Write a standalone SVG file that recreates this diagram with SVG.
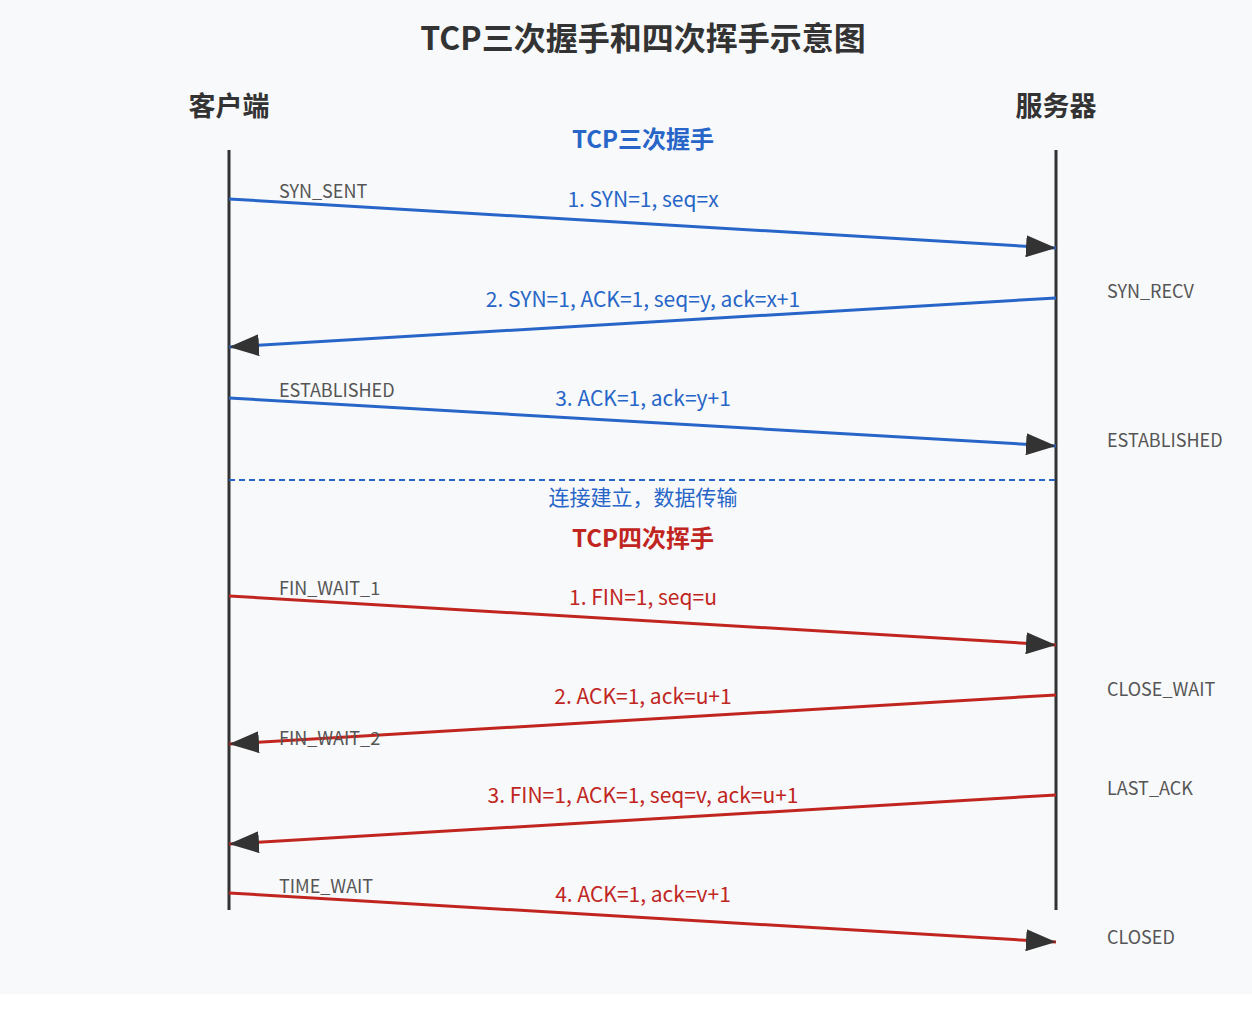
<svg xmlns="http://www.w3.org/2000/svg" width="1252" height="1020" viewBox="0 0 1252 1020">
<style>
text{font-family:"Noto Sans CJK SC","Noto Sans",sans-serif}
.t{font-size:32px;font-weight:bold;fill:#333;text-anchor:middle}
.a{font-size:27px;font-weight:bold;fill:#333;text-anchor:middle}
.life{stroke:#333;stroke-width:3}
.b{stroke:#2766c8;stroke-width:3;fill:none}
.r{stroke:#c0261f;stroke-width:3;fill:none}
.mb{font-size:21px;fill:#2766c8;text-anchor:middle}
.mr{font-size:21px;fill:#c0261f;text-anchor:middle}
.s{font-size:18px;fill:#555}
.hb{font-size:24px;font-weight:bold;fill:#2766c8;text-anchor:middle}
.hr{font-size:24px;font-weight:bold;fill:#c0261f;text-anchor:middle}
</style>
<defs>
<marker id="ah" markerUnits="userSpaceOnUse" markerWidth="32" markerHeight="22" refX="30" refY="11" orient="auto">
<path d="M0,0 L30,11 L0,22 Z" fill="#333"/>
</marker>
</defs>
<rect width="1252" height="994" fill="#f8f9fa"/>
<text class="t" x="643" y="50">TCP三次握手和四次挥手示意图</text>
<g id="client"><text class="a" x="229" y="116">客户端</text><line class="life" x1="229" y1="150" x2="229" y2="910"/></g>
<g id="server"><text class="a" x="1056" y="116">服务器</text><line class="life" x1="1056" y1="150" x2="1056" y2="910"/></g>
<text class="hb" x="643" y="148">TCP三次握手</text>
<text class="hr" x="643" y="547">TCP四次挥手</text>
<g id="connectors">
<line class="b" x1="229" y1="199" x2="1056" y2="248" marker-end="url(#ah)"/>
<line class="b" x1="1056" y1="298" x2="229" y2="347" marker-end="url(#ah)"/>
<line class="b" x1="229" y1="398" x2="1056" y2="446" marker-end="url(#ah)"/>
<line x1="229" y1="480" x2="1056" y2="480" stroke="#2766c8" stroke-width="2" stroke-dasharray="6,4"/>
<line class="r" x1="229" y1="596" x2="1056" y2="645" marker-end="url(#ah)"/>
<line class="r" x1="1056" y1="695" x2="229" y2="744" marker-end="url(#ah)"/>
<line class="r" x1="1056" y1="795" x2="229" y2="844" marker-end="url(#ah)"/>
<line class="r" x1="229" y1="893" x2="1056" y2="942" marker-end="url(#ah)"/>
</g>
<g id="labels">
<text class="mb" x="643" y="207">1. SYN=1, seq=x</text>
<text class="mb" x="643" y="307">2. SYN=1, ACK=1, seq=y, ack=x+1</text>
<text class="mb" x="643" y="406">3. ACK=1, ack=y+1</text>
<text class="mb" x="643" y="505">连接建立，数据传输</text>
<text class="mr" x="643" y="605">1. FIN=1, seq=u</text>
<text class="mr" x="643" y="704">2. ACK=1, ack=u+1</text>
<text class="mr" x="643" y="803">3. FIN=1, ACK=1, seq=v, ack=u+1</text>
<text class="mr" x="643" y="902">4. ACK=1, ack=v+1</text>
<text class="s" x="279" y="198">SYN_SENT</text>
<text class="s" x="279" y="397">ESTABLISHED</text>
<text class="s" x="279" y="595">FIN_WAIT_1</text>
<text class="s" x="279" y="745">FIN_WAIT_2</text>
<text class="s" x="279" y="893">TIME_WAIT</text>
<text class="s" x="1107" y="298">SYN_RECV</text>
<text class="s" x="1107" y="447">ESTABLISHED</text>
<text class="s" x="1107" y="696">CLOSE_WAIT</text>
<text class="s" x="1107" y="795">LAST_ACK</text>
<text class="s" x="1107" y="944">CLOSED</text>
</g>
</svg>
